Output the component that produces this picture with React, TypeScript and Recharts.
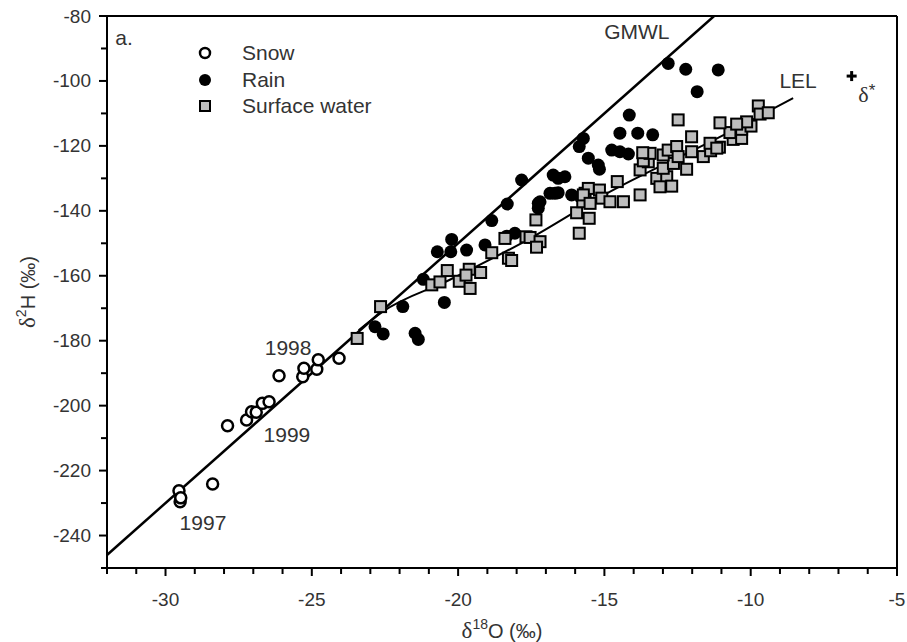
import { ScatterChart, Scatter, XAxis, YAxis, ReferenceLine, ReferenceDot } from "recharts"

// δ18O / δ2H pairs
const snow: [number, number][] = [
  [-29.54, -226.2], [-29.5, -229.6], [-29.48, -228.4], [-28.39, -224.1], [-27.88, -206.2],
  [-27.23, -204.4], [-27.06, -201.9], [-26.9, -202.0], [-26.69, -199.3], [-26.46, -198.8],
  [-26.12, -190.8], [-25.31, -191.1], [-25.27, -188.5], [-24.83, -188.8], [-24.78, -185.9],
  [-24.07, -185.4],
]

const rain: [number, number][] = [
  [-12.82, -94.6], [-12.22, -96.4], [-11.11, -96.6], [-11.83, -103.3], [-14.15, -110.5],
  [-14.47, -116.1], [-13.86, -116.1], [-13.35, -116.6], [-15.72, -117.7], [-15.86, -120.2],
  [-14.75, -121.3], [-14.47, -121.8], [-14.18, -122.5], [-15.55, -123.8], [-15.21, -125.9],
  [-15.17, -127.2], [-16.75, -129.0], [-16.35, -129.5], [-16.58, -130.0], [-17.83, -130.5],
  [-16.69, -134.6], [-16.86, -134.6], [-16.58, -134.4], [-16.12, -135.1], [-15.83, -135.6],
  [-17.2, -137.2], [-18.32, -137.9], [-17.26, -137.7], [-17.26, -139.2], [-18.85, -143.0],
  [-18.06, -146.9], [-18.34, -147.8], [-20.22, -148.8], [-19.71, -152.1], [-20.71, -152.6],
  [-20.25, -152.6], [-19.08, -150.5], [-21.19, -161.1], [-21.89, -169.5], [-20.47, -168.2],
  [-22.84, -175.7], [-22.56, -177.9], [-21.47, -177.7], [-21.36, -179.6],
]

const surface: [number, number][] = [
  [-23.45, -179.3], [-22.65, -169.5], [-20.9, -162.8], [-20.62, -161.9], [-20.37, -158.4],
  [-19.96, -161.7], [-19.62, -158.0], [-19.23, -159.0], [-19.73, -159.8], [-19.59, -163.9],
  [-18.85, -152.9], [-18.4, -148.5], [-17.68, -148.0], [-18.28, -154.6], [-18.17, -155.3],
  [-17.54, -148.2], [-17.2, -149.5], [-17.32, -151.2], [-17.34, -142.8], [-15.86, -146.9],
  [-15.95, -140.6], [-15.74, -137.2], [-15.66, -134.6], [-15.52, -142.3], [-15.55, -133.1],
  [-15.17, -133.6], [-15.72, -135.1], [-15.09, -136.1], [-14.81, -137.2], [-14.35, -137.2],
  [-15.49, -137.7], [-14.56, -131.0], [-13.78, -135.1], [-13.21, -130.0], [-12.87, -129.5],
  [-13.1, -132.6], [-12.7, -132.4], [-13.78, -127.4], [-12.99, -126.9], [-12.64, -125.4],
  [-12.19, -127.2], [-13.5, -124.9], [-13.67, -124.6], [-13.44, -122.3], [-13.69, -122.1],
  [-12.99, -122.8], [-12.82, -121.3], [-12.53, -120.2], [-12.48, -123.3], [-12.02, -121.8],
  [-12.02, -117.2], [-12.48, -112.0], [-11.62, -123.3], [-11.37, -121.5], [-11.07, -120.4],
  [-11.39, -119.2], [-11.16, -120.7], [-10.6, -118.0], [-10.31, -117.7], [-10.71, -115.9],
  [-10.31, -114.9], [-9.99, -113.9], [-10.14, -112.6], [-10.48, -113.3], [-11.05, -112.9],
  [-9.74, -107.7], [-9.68, -110.2], [-9.4, -109.8],
]

const deltaStar: [number, number][] = [[-6.55, -98.5]]

// global meteoric water line and local evaporation line
const gmwl: [number, number][] = [[-32, -246], [-11.25, -80]]
const lel: [number, number][] = [
  [-23.4, -176.8], [-22.6, -171.2], [-20.3, -161.3], [-17.5, -148.3],
  [-15.15, -135.8], [-10.8, -116.1], [-8.55, -105.3],
]

const xTicks = [
  -32, -31, -30, -29, -28, -27, -26, -25, -24, -23, -22, -21, -20, -19,
  -18, -17, -16, -15, -14, -13, -12, -11, -10, -9, -8, -7, -6, -5,
]
const xLabels = [-30, -25, -20, -15, -10, -5]
const yTicks = [
  -250, -240, -230, -220, -210, -200, -190, -180, -170, -160,
  -150, -140, -130, -120, -110, -100, -90, -80,
]
const yLabels = [-240, -220, -200, -180, -160, -140, -120, -100, -80]

const notes = [
  { x: -13.89, y: -84.9, text: "GMWL" },
  { x: -8.38, y: -100.0, text: "LEL" },
  { x: -25.81, y: -182.1, text: "1998" },
  { x: -25.85, y: -209.0, text: "1999" },
  { x: -28.72, y: -236.1, text: "1997" },
]

const toXY = (arr: [number, number][]) => arr.map(([x, y]) => ({ x, y }))

const font = "'Liberation Sans', Arial, sans-serif"
const textColor = "#333"

function XTick({ x, y, payload }: any) {
  const major = xLabels.includes(payload.value)
  return (
    <g>
      <line x1={x} x2={x} y1={y} y2={y + (major ? 8 : 6)} stroke="#000" strokeWidth={2} />
      {major && (
        <text x={x} y={y + 31} textAnchor="middle" dominantBaseline="central" fontSize={19} fontFamily={font} fill={textColor}>
          {payload.value}
        </text>
      )}
    </g>
  )
}

function YTick({ x, y, payload }: any) {
  const major = yLabels.includes(payload.value)
  return (
    <g>
      <line x1={x} x2={x - (major ? 8 : 6)} y1={y} y2={y} stroke="#000" strokeWidth={2} />
      {major && (
        <text x={x - 16} y={y} textAnchor="end" dominantBaseline="central" fontSize={19} fontFamily={font} fill={textColor}>
          {payload.value}
        </text>
      )}
    </g>
  )
}

const SnowDot = ({ cx, cy }: any) => <circle cx={cx} cy={cy} r={5.5} fill="#fff" stroke="#000" strokeWidth={2.5} />
const RainDot = ({ cx, cy }: any) => <circle cx={cx} cy={cy} r={6.5} fill="#000" />
const SurfaceDot = ({ cx, cy }: any) => (
  <rect x={cx - 5.5} y={cy - 5.5} width={11} height={11} fill="#bdbdbd" stroke="#000" strokeWidth={2} />
)
const PlusDot = ({ cx, cy }: any) => (
  <g fill="#000">
    <rect x={cx - 5} y={cy - 1.5} width={10} height={3} />
    <rect x={cx - 1.5} y={cy - 5} width={3} height={10} />
  </g>
)
const NoDot = () => <g />

function XTitle({ viewBox }: any) {
  const cx = viewBox.x + viewBox.width / 2
  return (
    <text x={cx} y={viewBox.y + 70} textAnchor="middle" fontSize={20} fontFamily={font} fill={textColor}>
      <tspan fontFamily="'Liberation Serif', serif" fontSize={23}>δ</tspan>
      <tspan dy={-9} fontSize={14}>18</tspan>
      <tspan dy={9}>O (‰)</tspan>
    </text>
  )
}

function YTitle({ viewBox }: any) {
  const cy = viewBox.y + viewBox.height / 2
  return (
    <text x={35} y={cy} transform={`rotate(-90, 35, ${cy})`} textAnchor="middle" fontSize={20} fontFamily={font} fill={textColor}>
      <tspan fontFamily="'Liberation Serif', serif" fontSize={23}>δ</tspan>
      <tspan dy={-9} fontSize={14}>2</tspan>
      <tspan dy={9}>H (‰)</tspan>
    </text>
  )
}

const legendItems = [
  { name: "Snow", icon: <circle cx={8} cy={8} r={5} fill="#fff" stroke="#000" strokeWidth={2.5} /> },
  { name: "Rain", icon: <circle cx={8} cy={8} r={6} fill="#000" /> },
  { name: "Surface water", icon: <rect x={3} y={3} width={10} height={10} fill="#bdbdbd" stroke="#000" strokeWidth={2} /> },
]

export default function App() {
  return (
    <div style={{ position: "absolute", left: 0, top: 0, width: 907, height: 642, background: "#fff" }}>
      <ScatterChart width={907} height={642} margin={{ top: 16, right: 10, bottom: 0, left: 0 }}>
        <XAxis
          type="number"
          dataKey="x"
          domain={[-32, -5]}
          ticks={xTicks}
          allowDataOverflow
          height={74}
          tickLine={false}
          tickSize={0}
          tickMargin={0}
          tick={<XTick />}
          interval={0}
          axisLine={{ stroke: "#000", strokeWidth: 2 }}
          label={{ content: XTitle }}
        />
        <YAxis
          type="number"
          dataKey="y"
          domain={[-250, -80]}
          ticks={yTicks}
          allowDataOverflow
          width={107}
          tickLine={false}
          tickSize={0}
          tickMargin={0}
          tick={<YTick />}
          interval={0}
          axisLine={{ stroke: "#000", strokeWidth: 2 }}
          label={{ content: YTitle }}
        />
        <ReferenceLine y={-80} stroke="#000" strokeWidth={2} />
        <ReferenceLine x={-5} stroke="#000" strokeWidth={2} />

        <Scatter data={toXY(gmwl)} line={{ stroke: "#000", strokeWidth: 2.5 }} shape={NoDot} isAnimationActive={false} />
        <Scatter data={toXY(lel)} line={{ stroke: "#000", strokeWidth: 2 }} lineJointType="monotoneX" shape={NoDot} isAnimationActive={false} />

        <Scatter name="Rain" data={toXY(rain)} shape={RainDot} isAnimationActive={false} />
        <Scatter name="Surface water" data={toXY(surface)} shape={SurfaceDot} isAnimationActive={false} />
        <Scatter name="Snow" data={toXY(snow)} shape={SnowDot} isAnimationActive={false} />
        <Scatter name="δ*" data={toXY(deltaStar)} shape={PlusDot} isAnimationActive={false} />

        {notes.map((n) => (
          <ReferenceDot
            key={n.text}
            x={n.x}
            y={n.y}
            ifOverflow="visible"
            shape={(p: any) => (
              <text x={p.cx} y={p.cy} textAnchor="middle" dominantBaseline="central" fontSize={21} fontFamily={font} fill={textColor}>
                {n.text}
              </text>
            )}
          />
        ))}
        <ReferenceDot
          x={-6.03}
          y={-104}
          ifOverflow="visible"
          shape={(p: any) => (
            <text x={p.cx} y={p.cy} textAnchor="middle" dominantBaseline="central" fontSize={22} fill={textColor}>
              <tspan fontFamily="'Liberation Serif', serif">δ</tspan>
              <tspan fontFamily={font} fontSize={17} dy={-4}>*</tspan>
            </text>
          )}
        />
        <ReferenceDot
          x={-31.42}
          y={-86.5}
          ifOverflow="visible"
          shape={(p: any) => (
            <text x={p.cx} y={p.cy} textAnchor="middle" dominantBaseline="central" fontSize={21} fontFamily={font} fill={textColor}>
              a.
            </text>
          )}
        />
      </ScatterChart>

      <div style={{ position: "absolute", left: 197, top: 40, fontFamily: font, fontSize: 21, color: textColor }}>
        {legendItems.map((item) => (
          <div key={item.name} style={{ display: "flex", alignItems: "center", height: 26.5 }}>
            <svg width={16} height={16} style={{ marginRight: 29 }}>
              {item.icon}
            </svg>
            <span>{item.name}</span>
          </div>
        ))}
      </div>
    </div>
  )
}
